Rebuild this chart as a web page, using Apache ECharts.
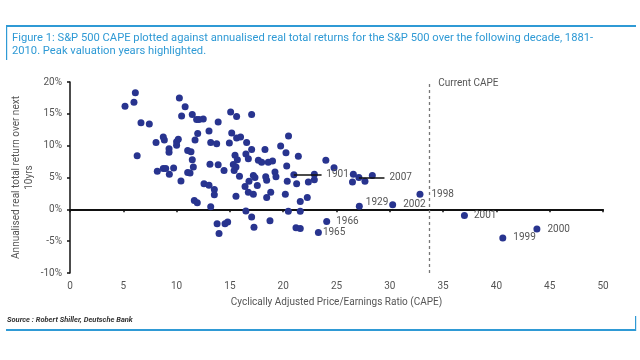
<!DOCTYPE html>
<html>
<head>
<meta charset="utf-8">
<script src="https://cdn.jsdelivr.net/npm/echarts@6/dist/echarts.min.js"></script>
<style>html,body{margin:0;padding:0;background:#fff}#c{width:640px;height:360px}</style>
</head>
<body>
<div id="c"></div>
<script>
// ---- data ----
const capeVals = [5.16,6.0,6.13,6.66,7.44,6.3,8.07,8.75,8.85,9.29,9.29,8.19,8.75,8.98,9.32,9.72,10.0,10.16,10.0,10.26,10.8,10.47,10.41,11.04,11.26,11.04,11.35,11.47,11.57,11.47,11.88,12.1,12.5,11.98,11.73,11.66,11.94,12.57,13.04,13.04,13.2,13.13,13.2,13.54,13.54,13.8,13.98,13.76,13.9,13.9,
  15.07,15.63,17.04,15.17,15.63,16.0,14.95,16.57,17.04,16.5,15.48,15.7,16.73,15.32,15.57,15.4,15.9,14.45,14.54,14.79,15.57,16.5,17.04,17.26,18.76,16.42,16.79,17.2,17.35,16.73,17.2,17.57,17.67,17.98,18.29,18.6,19.0,18.36,18.45,18.83,18.45,19.23,19.32,19.76,20.26,20.5,20.33,20.38,20.2,20.48,21.42,21.26,21.6,21.6,21.2,21.6,22.36,22.26,22.92,22.92,24.0,24.77,26.58,26.5,27.67,28.36];
const returnVals = [16.2,16.8,18.3,13.6,13.4,8.4,10.5,11.35,10.9,9.5,8.95,6.0,6.4,6.4,5.5,6.5,10.6,11.0,10.05,17.5,16.1,14.65,4.45,5.8,5.7,9.26,9.05,7.8,6.65,14.9,14.1,14.1,14.2,11.9,10.9,1.4,1.05,4.0,3.8,12.3,10.5,7.1,0.4,3.1,2.3,-2.25,-3.8,10.3,13.7,7.0,
  15.3,14.6,14.9,12.0,11.2,11.35,10.4,10.5,9.4,8.7,8.5,7.8,7.95,7.05,6.65,6.1,5.2,6.1,-2.25,-2.0,2.05,-0.25,-1.2,-2.8,-1.8,3.6,4.4,5.3,5.0,2.7,2.35,3.75,7.7,7.4,9.4,7.4,7.6,5.1,4.55,2.7,1.85,5.85,5.1,9.95,8.9,11.5,6.8,4.4,2.35,-0.3,8.35,4.0,1.25,-0.3,-2.9,-3.0,4.3,1.85,5.5,4.65,7.7,6.55,5.5,4.3,4.4,5.3];

// peak valuation years (highlighted)
const peakYears = ['1901','2007','1929','2002','1966','1965','1998','2001','1999','2000'];
const peakCape  = [21.0, 27.1, 27.14, 30.27, 24.08, 23.3, 32.83, 37.0, 40.6, 43.8];
const peakRet   = [5.45, 5.0, 0.47, 0.73, -1.9, -3.65, 2.35, -0.95, -4.5, -3.1];
// leader line end (CAPE value) for years with a leader line
const leaderEndCape = {'1901': 23.6, '2007': 29.5};

const currentCape = 33.7;
const xTicks = {min: 0, max: 50, step: 5};
const yTicks = {min: -10, max: 20, step: 5};

// ---- styles ----
const FONT = 'Roboto';
const BLUE = '#2f9ad5';
const DOT = '#28348f';
const GREY = '#555';
const labelTweak = {
  '1901': {distance: 29}, '2007': {distance: 27}, '1929': {distance: 3, offset: [0, -4]},
  '2002': {distance: 7}, '1966': {distance: 6}, '1965': {distance: 1}, '1998': {distance: 8},
  '2001': {distance: 6}, '1999': {distance: 7}, '2000': {distance: 7}
};

const mainData = capeVals.map((c, i) => [c, returnVals[i]]);
const peakData = peakYears.map((y, i) => ({
  name: y, value: [peakCape[i], peakRet[i]],
  label: Object.assign({}, labelTweak[y] || {})
}));
const leaderLines = peakYears.filter(y => leaderEndCape[y] != null).map(y => {
  const i = peakYears.indexOf(y);
  return [{coord: [peakCape[i], peakRet[i]]}, {coord: [leaderEndCape[y], peakRet[i]]}];
});

const chart = echarts.init(document.getElementById('c'), null, {renderer: 'canvas'});
chart.setOption({
  animation: false,
  backgroundColor: '#fff',
  textStyle: {fontFamily: FONT},
  title: [{
    text: 'Figure 1: S&P 500 CAPE plotted against annualised real total returns for the S&P 500 over the following decade, 1881-\n2010. Peak valuation years highlighted.',
    left: 12, top: 32, padding: 0,
    textStyle: {fontFamily: FONT, fontSize: 11.2, lineHeight: 13, fontWeight: 'normal', color: BLUE}
  }, {
    text: 'Source : Robert Shiller, Deutsche Bank',
    left: 7, top: 316, padding: 0,
    textStyle: {fontFamily: FONT, fontSize: 7.5, fontStyle: 'italic', fontWeight: 'bold', color: '#333'}
  }],
  graphic: [
    {type: 'rect', shape: {x: 6, y: 25, width: 630, height: 2}, style: {fill: BLUE}, silent: true},
    {type: 'rect', shape: {x: 6, y: 25, width: 1.2, height: 35}, style: {fill: BLUE}, silent: true},
    {type: 'rect', shape: {x: 6, y: 329, width: 630, height: 2}, style: {fill: BLUE}, silent: true},
    {type: 'rect', shape: {x: 635, y: 316, width: 1.2, height: 15}, style: {fill: BLUE}, silent: true}
  ],
  grid: {left: 70, right: 37, top: 82, bottom: 87, outerBoundsMode: 'none', containLabel: false},
  xAxis: [{
    type: 'value', min: xTicks.min, max: xTicks.max, interval: xTicks.step,
    position: 'bottom',
    axisLine: {show: false, onZero: false},
    axisTick: {show: false},
    splitLine: {show: false},
    axisLabel: {color: GREY, fontSize: 10, margin: 8, fontFamily: FONT},
    name: 'Cyclically Adjusted Price/Earnings Ratio (CAPE)',
    nameLocation: 'middle', nameGap: 24, nameMoveOverlap: false,
    nameTextStyle: {color: GREY, fontSize: 10, fontFamily: FONT}
  }, {
    type: 'value', min: xTicks.min, max: xTicks.max, interval: xTicks.step,
    position: 'bottom',
    axisLine: {show: true, onZero: true, lineStyle: {color: '#111', width: 2}},
    axisTick: {show: true, length: 3, lineStyle: {color: '#111', width: 1.5}},
    axisLabel: {show: false},
    splitLine: {show: false}
  }],
  yAxis: {
    type: 'value', min: yTicks.min, max: yTicks.max, interval: yTicks.step,
    axisLine: {show: true, lineStyle: {color: '#111', width: 1.5}},
    axisTick: {show: true, length: 3, lineStyle: {color: '#111', width: 1.5}},
    splitLine: {show: false},
    axisLabel: {formatter: '{value}%', color: GREY, fontSize: 10, margin: 8, fontFamily: FONT},
    name: 'Annualised real total return over next\n10yrs',
    nameLocation: 'middle', nameGap: 34, nameRotate: 90, nameMoveOverlap: false,
    nameTextStyle: {color: GREY, fontSize: 10, lineHeight: 13, fontFamily: FONT, align: 'center'}
  },
  series: [{
    type: 'scatter', xAxisIndex: 0, yAxisIndex: 0,
    data: mainData, symbolSize: 7,
    itemStyle: {color: DOT, opacity: 1},
    markLine: {
      silent: true, symbol: ['none', 'none'],
      lineStyle: {color: '#777', type: [3, 3], width: 1.3},
      label: {show: false},
      data: [{xAxis: currentCape}]
    },
    markPoint: {
      silent: true, symbol: 'circle', symbolSize: 0,
      data: [{coord: [currentCape, 19.7], name: 'Current CAPE'}],
      label: {show: true, position: 'right', distance: 9, formatter: 'Current CAPE', color: GREY, fontSize: 10, fontFamily: FONT}
    }
  }, {
    type: 'scatter', xAxisIndex: 0, yAxisIndex: 0,
    data: peakData, symbolSize: 7,
    itemStyle: {color: DOT, opacity: 1},
    label: {show: true, position: 'right', formatter: '{b}', color: GREY, fontSize: 10, fontFamily: FONT},
    markLine: {
      silent: true, symbol: ['none', 'none'],
      lineStyle: {color: '#111', type: 'solid', width: 1.5},
      label: {show: false},
      data: leaderLines
    }
  }]
});
</script>
</body>
</html>
